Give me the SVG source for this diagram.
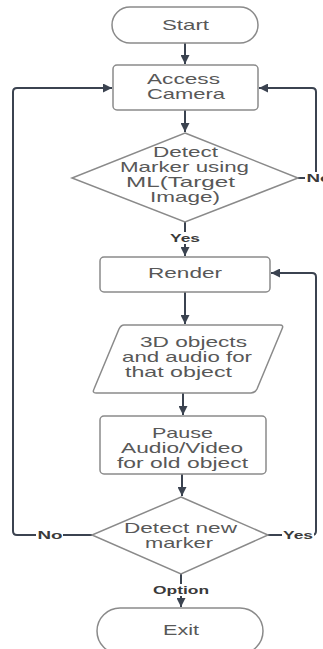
<svg xmlns="http://www.w3.org/2000/svg" width="323" height="649" viewBox="0 0 323 649">
<defs>
<marker id="ah" viewBox="0 0 10 10" refX="10" refY="5" markerWidth="4.5" markerHeight="4.5" orient="auto" markerUnits="strokeWidth">
<path d="M0,0 L10,5 L0,10 Z" fill="#3b4350"/>
</marker>
</defs>
<style>
.shape{fill:#fff;stroke:#8a8a8a;stroke-width:1.5}
.t{font-family:"Liberation Sans",Arial,sans-serif;font-size:14.5px;fill:#585858;text-anchor:middle}
.lbl{font-family:"Liberation Sans",Arial,sans-serif;font-size:11px;font-weight:bold;fill:#3a3a3a;text-anchor:middle}
.c{fill:none;stroke:#3b4350;stroke-width:2}
.ca{fill:none;stroke:#3b4350;stroke-width:2;marker-end:url(#ah)}
</style>
<rect width="323" height="649" fill="#fff"/>
<g id="connectors">
<path class="ca" d="M185,43 L185,64"/>
<path class="ca" d="M185,110 L185,132"/>
<path class="ca" d="M185,222 L185,256"/>
<path class="ca" d="M185,292 L185,324"/>
<path class="ca" d="M183,393 L183,415"/>
<path class="ca" d="M182,474 L182,496"/>
<path class="ca" d="M181,574 L181,607"/>
<path class="ca" d="M298,178 L312,178 Q316,178 316,174 L316,92 Q316,88 312,88 L259,88"/>
<path class="ca" d="M92,535 L17,535 Q13,535 13,531 L13,92 Q13,88 17,88 L112,88"/>
<path class="ca" d="M268,535 L312,535 Q316,535 316,531 L316,277 Q316,273 312,273 L271,273"/>
<rect x="169" y="232" width="32" height="12" fill="#fff"/>
<text class="lbl" x="185" y="242" textLength="30" lengthAdjust="spacingAndGlyphs">Yes</text>
<rect x="36" y="529" width="27" height="12" fill="#fff"/>
<text class="lbl" x="50" y="539" textLength="25" lengthAdjust="spacingAndGlyphs">No</text>
<rect x="282" y="529" width="32" height="12" fill="#fff"/>
<text class="lbl" x="298" y="539" textLength="30" lengthAdjust="spacingAndGlyphs">Yes</text>
<rect x="305" y="172" width="18" height="12" fill="#fff"/>
<text class="lbl" x="319" y="182" textLength="25" lengthAdjust="spacingAndGlyphs">No</text>
<rect x="152" y="584" width="58" height="12" fill="#fff"/>
<text class="lbl" x="181" y="594" textLength="56" lengthAdjust="spacingAndGlyphs">Option</text>
</g>
<g id="start">
<rect class="shape" x="112" y="7" width="146" height="36" rx="18"/>
<text class="t" x="185.5" y="30" textLength="47" lengthAdjust="spacingAndGlyphs">Start</text>
</g>
<g id="access-camera">
<rect class="shape" x="113" y="65" width="145" height="45" rx="4"/>
<text class="t" x="183.5" y="84" textLength="73" lengthAdjust="spacingAndGlyphs">Access</text>
<text class="t" x="186" y="99" textLength="78" lengthAdjust="spacingAndGlyphs">Camera</text>
</g>
<g id="detect-marker">
<path class="shape" d="M185,133 L298,178 L185,222 L72,178 Z"/>
<text class="t" x="185.5" y="157" textLength="65" lengthAdjust="spacingAndGlyphs">Detect</text>
<text class="t" x="184.5" y="172" textLength="129" lengthAdjust="spacingAndGlyphs">Marker using</text>
<text class="t" x="180.5" y="187" textLength="109" lengthAdjust="spacingAndGlyphs">ML(Target</text>
<text class="t" x="185" y="202" textLength="70" lengthAdjust="spacingAndGlyphs">Image)</text>
</g>
<g id="render">
<rect class="shape" x="100" y="257" width="170" height="35" rx="4"/>
<text class="t" x="185" y="278" textLength="74" lengthAdjust="spacingAndGlyphs">Render</text>
</g>
<g id="objects-audio">
<path class="shape" d="M124,325 L280,325 Q284,325 282,329 L257,389 Q255,393 251,393 L96,393 Q92,393 94,389 L119,329 Q121,325 124,325 Z"/>
<text class="t" x="193.5" y="347" textLength="107" lengthAdjust="spacingAndGlyphs">3D objects</text>
<text class="t" x="187" y="362" textLength="130" lengthAdjust="spacingAndGlyphs">and audio for</text>
<text class="t" x="178.5" y="377" textLength="107" lengthAdjust="spacingAndGlyphs">that object</text>
</g>
<g id="pause">
<rect class="shape" x="100" y="416" width="166" height="58" rx="4"/>
<text class="t" x="182.5" y="438" textLength="61" lengthAdjust="spacingAndGlyphs">Pause</text>
<text class="t" x="182" y="453" textLength="122" lengthAdjust="spacingAndGlyphs">Audio/Video</text>
<text class="t" x="182.5" y="468" textLength="131" lengthAdjust="spacingAndGlyphs">for old object</text>
</g>
<g id="detect-new">
<path class="shape" d="M181,497 L268,535 L181,574 L92,535 Z"/>
<text class="t" x="180.5" y="533" textLength="113" lengthAdjust="spacingAndGlyphs">Detect new</text>
<text class="t" x="179" y="548" textLength="68" lengthAdjust="spacingAndGlyphs">marker</text>
</g>
<g id="exit">
<rect class="shape" x="97" y="608" width="166" height="46" rx="23"/>
<text class="t" x="181" y="635" textLength="36" lengthAdjust="spacingAndGlyphs">Exit</text>
</g>
</svg>
